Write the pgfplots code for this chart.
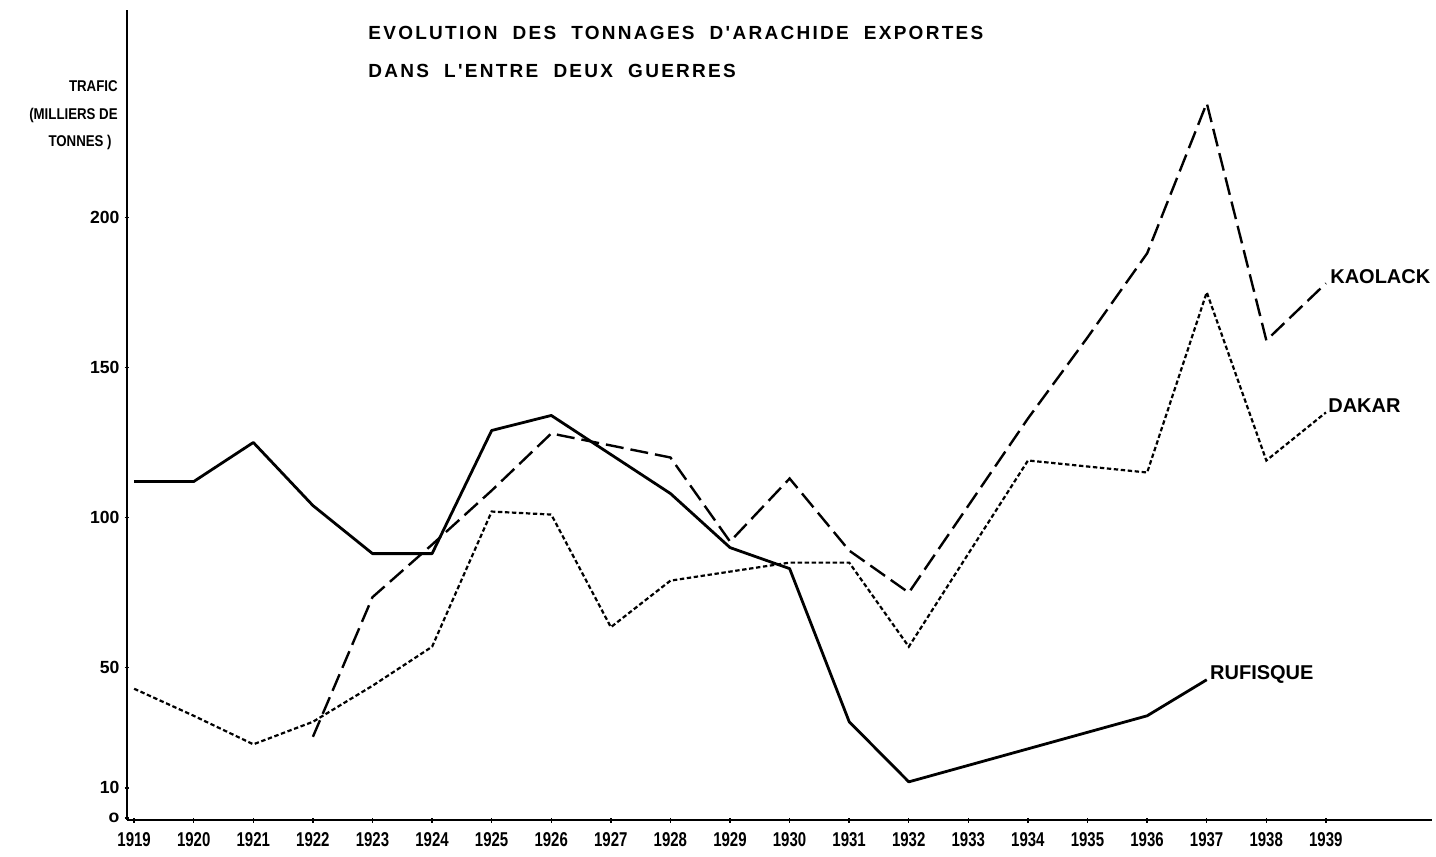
\documentclass[border=0pt]{standalone}
\usepackage{fontspec}
\setmainfont{Liberation Sans}
\newfontfamily\titlefont[LetterSpace=12]{Liberation Sans}
\usepackage{pgfplots}
\pgfplotsset{compat=1.18}
\begin{document}
\begin{tikzpicture}
\begin{axis}[
  at={(0,0)}, anchor=south west,
  scale only axis, width=652.5pt, height=405pt,
  xmin=1918.88, xmax=1940.78, ymin=-0.7, ymax=269,
  axis lines=left, axis line style={-, line width=1.4pt},
  xtick={1919,...,1939},
  xticklabels={1919,1920,1921,1922,1923,1924,1925,1926,1927,1928,1929,1930,1931,1932,1933,1934,1935,1936,1937,1938,1939},
  xticklabel style={font=\bfseries\fontsize{10}{12}\selectfont, xscale=0.75, yshift=-1.5pt},
  ytick={0,10,50,100,150,200},
  yticklabels={o,10,50,100,150,200},
  yticklabel style={font=\bfseries\fontsize{8.8}{10}\selectfont, xshift=1pt},
  tick style={black, line width=0.7pt},
  major tick length=2.5pt,
  clip=false,
]
% RUFISQUE (solid)
\addplot[black, line width=1.4pt, line join=round] coordinates {
(1919,112)(1920,112)(1921,125)(1922,104)(1923,88)(1924,88)(1925,129)(1926,134)
(1927,121)(1928,108)(1929,90)(1930,83)(1931,32)(1932,12)(1933,17.5)(1934,23)
(1935,28.5)(1936,34)(1937,46)};
% KAOLACK (long dashes)
\addplot[black, line width=1.2pt, dash pattern=on 9pt off 3.5pt] coordinates {
(1922,27)(1923,73.5)(1924,91)(1925,109)(1926,128)(1927,124)(1928,120)(1929,92)
(1930,113)(1931,89)(1932,75)(1933,104)(1934,133)(1935,160)(1936,188)(1937,238)
(1938,159)(1939,178)};
% DAKAR (short dashes)
\addplot[black, line width=1.1pt, dash pattern=on 2.2pt off 1.3pt] coordinates {
(1919,43)(1920,34)(1921,24.5)(1922,32)(1923,44)(1924,57)(1925,102)(1926,101)
(1927,63.5)(1928,79)(1929,82)(1930,85)(1931,85)(1932,57)(1933,88)(1934,119)
(1935,117)(1936,115)(1937,175)(1938,119)(1939,135)};
\node[anchor=base west, inner sep=0, font=\bfseries\fontsize{10}{12}\selectfont] at (axis cs:1939,178) {\hspace{2pt}KAOLACK};
\node[anchor=base west, inner sep=0, font=\bfseries\fontsize{10}{12}\selectfont] at (axis cs:1939,135) {\hspace{1pt}DAKAR};
\node[anchor=base west, inner sep=0, font=\bfseries\fontsize{10}{12}\selectfont] at (axis cs:1937,46) {\hspace{1.5pt}RUFISQUE};
\end{axis}
\node[anchor=base west, inner sep=0, font=\titlefont\bfseries\fontsize{9.5}{11}\selectfont] at (120.5pt,390pt) {EVOLUTION\ \ DES\ \ TONNAGES\ \ D'ARACHIDE\ \ EXPORTES};
\node[anchor=base west, inner sep=0, font=\titlefont\bfseries\fontsize{9.5}{11}\selectfont] at (120.5pt,371pt) {DANS\ \ L'ENTRE\ \ DEUX\ \ GUERRES};
\node[anchor=base east, inner sep=0, xscale=0.85, font=\bfseries\fontsize{7.8}{9}\selectfont] at (-4.5pt,364pt) {TRAFIC};
\node[anchor=base east, inner sep=0, xscale=0.85, font=\bfseries\fontsize{7.8}{9}\selectfont] at (-4.5pt,350pt) {(MILLIERS DE};
\node[anchor=base east, inner sep=0, xscale=0.85, font=\bfseries\fontsize{7.8}{9}\selectfont] at (-7.5pt,336.5pt) {TONNES )};
\pgfresetboundingbox
\path[use as bounding box] (-63.5pt,-18.5pt) rectangle (654.5pt,410pt);
\end{tikzpicture}
\end{document}
